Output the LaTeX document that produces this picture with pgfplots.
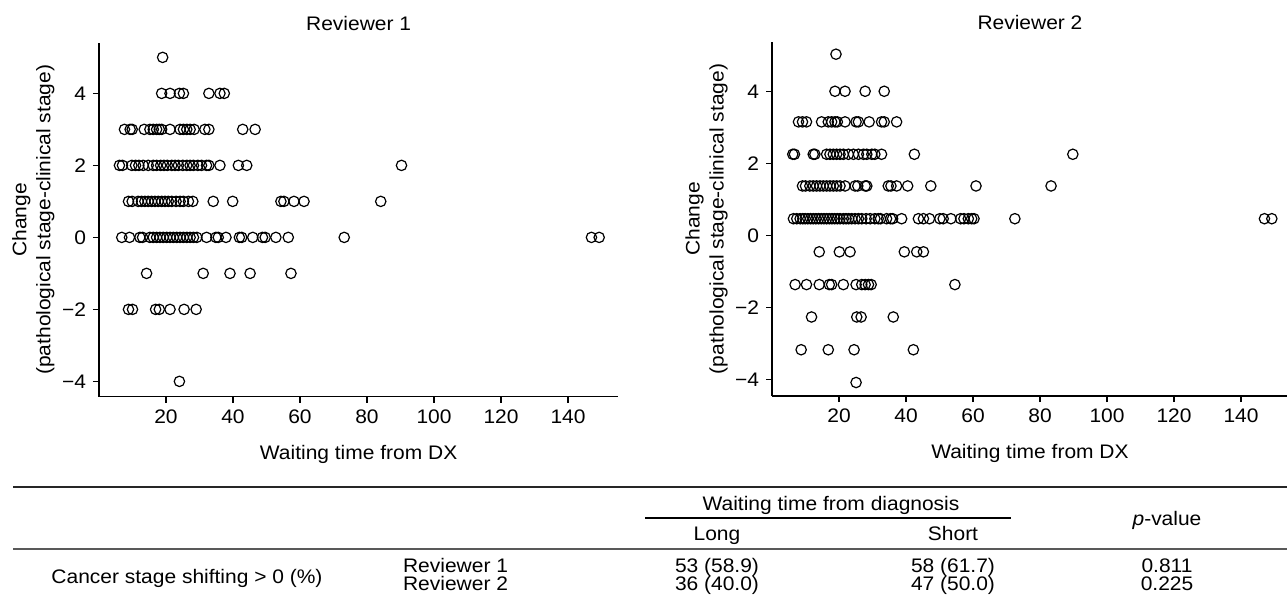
\documentclass[border=0pt]{standalone}
\usepackage{fontspec}
\setmainfont{Liberation Sans}[FakeStretch=1.07]
\usepackage{pgfplots}
\pgfplotsset{compat=1.18}
\newcommand{\fs}{\fontsize{9.8}{12}\selectfont}
\pgfplotsset{
  scat/.style={
    x=1.675pt, y=18pt,
    xmin=0,
    axis x line=bottom, axis y line=left,
    axis line style={-, line width=0.65pt, black},
    every tick/.style={line width=0.65pt, black},
    tick align=outside, major tick length=3pt,
    xtick={20,40,...,140},
    xticklabels={20,40,60,80,100,120,140},
    ytick={-4,-2,0,2,4},
    yticklabels={−4,−2,0,2,4},
    ticklabel style={font=\fs},
    every axis title/.style={font=\fs, at={(axis description cs:0.5,1)}, anchor=base, yshift=6.15pt},
    every axis x label/.style={font=\fs, at={(axis description cs:0.5,0)}, anchor=base, yshift=-31.25pt},
    every axis y label/.style={font=\fs, at={(axis description cs:-0.085,0.5)}, rotate=90, anchor=south, align=center, inner sep=0pt},
    clip=false,
    xlabel={Waiting time from DX},
    ylabel={Change\\(pathological stage-clinical stage)},
  },
  circ/.style={only marks, mark=o, mark size=2.6pt, mark options={line width=0.6pt, black}},
}
\begin{document}
\begin{tikzpicture}
\useasboundingbox (0,0) rectangle (643.5pt,-302.5pt);
% ---------------- Reviewer 1 ----------------
\begin{axis}[scat, at={(49.5pt,-198.25pt)}, anchor=south west,
  xmax=155, ymin=-4.42, ymax=5.40, title={Reviewer 1}]
\addplot[circ] coordinates {
 (19.0,5)
 (18.7,4) (21.2,4) (24.0,4) (25.2,4) (32.8,4) (36.1,4) (37.4,4)
 (7.6,3) (9.3,3) (9.9,3) (13.5,3) (15.2,3) (16.2,3) (17.2,3) (18.0,3) (18.7,3) (21.2,3)
 (24.2,3) (25.2,3) (26.2,3) (27.2,3) (28.4,3) (31.6,3) (32.8,3) (42.9,3) (46.6,3)
 (6.1,2) (7.0,2) (9.8,2) (10.9,2) (11.9,2) (13.2,2) (14.7,2) (16.2,2) (17.2,2) (18.4,2)
 (19.4,2) (20.4,2) (21.7,2) (22.7,2) (23.7,2) (25.0,2) (26.2,2) (27.2,2) (28.2,2) (29.5,2)
 (30.6,2) (32.1,2) (32.8,2) (36.1,2) (41.6,2) (44.1,2) (90.3,2)
 (8.8,1) (9.9,1) (11.7,1) (12.7,1) (13.7,1) (14.7,1) (15.7,1) (16.7,1) (17.7,1) (18.7,1)
 (19.7,1) (20.7,1) (21.7,1) (23.0,1) (24.2,1) (25.2,1) (26.7,1) (28.0,1) (34.1,1) (39.9,1)
 (54.3,1) (55.2,1) (58.2,1) (61.2,1) (84.1,1)
 (6.8,0) (9.1,0) (12.2,0) (13.0,0) (15.2,0) (16.2,0) (17.2,0) (18.2,0) (19.2,0) (20.2,0)
 (21.2,0) (22.2,0) (23.2,0) (24.2,0) (25.2,0) (26.2,0) (27.2,0) (28.2,0) (29.2,0) (32.1,0)
 (34.9,0) (35.6,0) (37.9,0) (41.9,0) (42.6,0) (45.9,0) (48.8,0) (49.6,0) (52.8,0) (56.5,0)
 (73.2,0) (147.0,0) (149.3,0)
 (14.2,-1) (31.1,-1) (39.1,-1) (45.1,-1) (57.3,-1)
 (8.8,-2) (10.0,-2) (16.9,-2) (18.0,-2) (21.2,-2) (25.4,-2) (29.0,-2)
 (24.0,-4)
};
\end{axis}
% ---------------- Reviewer 2 ----------------
\begin{axis}[scat, at={(386pt,-198pt)}, anchor=south west,
  xmax=154, ymin=-4.465, ymax=5.37, title={Reviewer 2}]
\addplot[circ] coordinates {
 (19.1,5.03)
 (18.8,4) (21.8,4) (27.8,4) (33.5,4)
 (7.9,3.15) (9.1,3.15) (10.3,3.15) (14.8,3.15) (16.8,3.15) (17.8,3.15) (18.8,3.15) (19.5,3.15)
 (21.8,3.15) (25.1,3.15) (25.8,3.15) (29.0,3.15) (32.7,3.15) (33.5,3.15) (37.2,3.15)
 (6.2,2.25) (6.7,2.25) (12.3,2.25) (12.8,2.25) (16.3,2.25) (17.3,2.25) (18.3,2.25) (19.3,2.25)
 (20.3,2.25) (21.3,2.25) (22.8,2.25) (24.3,2.25) (25.8,2.25) (27.3,2.25) (28.3,2.25) (29.8,2.25)
 (30.7,2.25) (32.7,2.25) (42.5,2.25) (89.8,2.25)
 (9.1,1.37) (10.0,1.37) (11.3,1.37) (12.3,1.37) (13.3,1.37) (14.3,1.37) (15.3,1.37) (16.3,1.37)
 (17.3,1.37) (18.3,1.37) (19.3,1.37) (20.3,1.37) (21.8,1.37) (24.8,1.37) (25.6,1.37) (27.8,1.37)
 (28.3,1.37) (34.7,1.37) (35.5,1.37) (37.2,1.37) (40.5,1.37) (47.4,1.37) (60.9,1.37) (83.3,1.37)
 (6.4,0.46) (7.4,0.46) (8.4,0.46) (9.2,0.46) (9.9,0.46) (10.7,0.46) (11.5,0.46) (12.3,0.46)
 (13.1,0.46) (13.9,0.46) (14.7,0.46) (15.5,0.46) (16.3,0.46) (17.1,0.46) (17.9,0.46) (18.7,0.46)
 (19.5,0.46) (20.3,0.46) (21.3,0.46) (22.1,0.46) (22.9,0.46) (23.8,0.46) (24.8,0.46) (25.8,0.46)
 (26.8,0.46) (28.1,0.46) (29.3,0.46) (30.7,0.46) (31.7,0.46) (32.4,0.46) (34.2,0.46) (35.4,0.46)
 (36.0,0.46) (38.7,0.46) (43.7,0.46) (45.2,0.46) (47.0,0.46) (50.1,0.46) (51.1,0.46) (53.4,0.46)
 (56.3,0.46) (57.3,0.46) (58.6,0.46) (59.6,0.46) (60.3,0.46) (72.5,0.46) (147.0,0.46) (149.2,0.46)
 (14.1,-0.46) (20.1,-0.46) (23.3,-0.46) (39.5,-0.46) (43.2,-0.46) (45.2,-0.46)
 (6.9,-1.37) (10.3,-1.37) (14.1,-1.37) (17.1,-1.37) (17.8,-1.37) (21.3,-1.37) (25.1,-1.37)
 (26.8,-1.37) (27.8,-1.37) (28.8,-1.37) (29.6,-1.37) (54.6,-1.37)
 (11.8,-2.27) (25.3,-2.27) (26.6,-2.27) (36.2,-2.27)
 (8.7,-3.18) (16.8,-3.18) (24.5,-3.18) (42.2,-3.18)
 (25.1,-4.09)
};
\end{axis}
% ---------------- Table ----------------
\begin{scope}[x=0.5pt, y=-0.5pt, every node/.style={inner sep=0pt, font=\fs}]
\draw[line width=0.55pt, black!85] (13,487) -- (1287,487);
\draw[line width=0.55pt, black] (645,518) -- (1011,518);
\draw[line width=1pt, black!65] (13,548.5) -- (1287,548.5);
\node[anchor=base] at (831,510.7) {Waiting time from diagnosis};
\node[anchor=base] at (1167,525) {\textit{p}-value};
\node[anchor=base] at (717,540) {Long};
\node[anchor=base] at (953,540) {Short};
\node[anchor=base] at (187,583.5) {Cancer stage shifting > 0 (\%)};
\node[anchor=base west] at (402.7,572.5) {Reviewer 1};
\node[anchor=base west] at (402.7,590.5) {Reviewer 2};
\node[anchor=base] at (717,572.5) {53 (58.9)};
\node[anchor=base] at (717,590.5) {36 (40.0)};
\node[anchor=base] at (953,572.5) {58 (61.7)};
\node[anchor=base] at (953,590.5) {47 (50.0)};
\node[anchor=base] at (1167,572.5) {0.811};
\node[anchor=base] at (1167,590.5) {0.225};
\end{scope}
\end{tikzpicture}
\end{document}
